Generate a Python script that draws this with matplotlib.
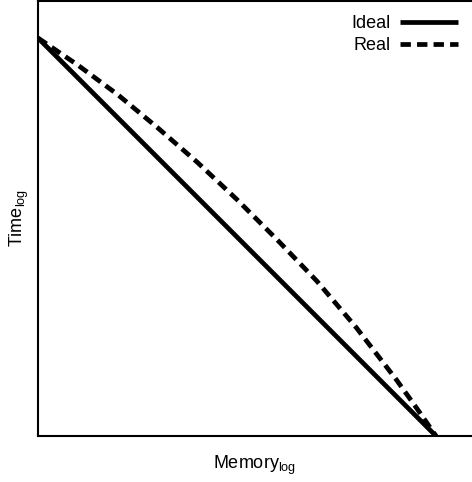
import matplotlib
matplotlib.use("Agg")
import matplotlib.pyplot as plt

plt.rcParams['font.family'] = ['Liberation Sans', 'DejaVu Sans']
plt.rcParams['mathtext.fontset'] = 'custom'
plt.rcParams['mathtext.rm'] = 'Liberation Sans'
plt.rcParams['mathtext.it'] = 'Liberation Sans'

# Data (normalized log-memory vs log-time)
ideal_x = [0.0, 1.0]
ideal_y = [1.0, 0.0]
real_x = [0.0, 0.1, 0.2, 0.3, 0.4, 0.5, 0.6, 0.7, 0.8, 0.9, 0.95, 1.0]
real_y = [1.0, 0.932, 0.858, 0.775, 0.688, 0.594, 0.494, 0.39, 0.272, 0.142, 0.072, 0.0]
labels = ["Ideal", "Real"]

fig = plt.figure(figsize=(4.72, 4.82), dpi=100)
ax = fig.add_axes([38/472, 46/482, 434/472, 435.5/482])
ax.plot(ideal_x, ideal_y, color='black', lw=3.4, label=labels[0], solid_capstyle='butt')
ax.plot(real_x, real_y, color='black', lw=3.4, ls=(0, (2.2, 1.3)), label=labels[1])
ax.set_xlim(0, 434/398)
ax.set_ylim(0, 435.5/398)
ax.set_xticks([])
ax.set_yticks([])
for s in ax.spines.values():
    s.set_linewidth(1.5)
ax.spines['right'].set_visible(False)
ax.set_xlabel(r'Memory$_\mathrm{log}$', fontsize=13, labelpad=13)
ax.set_ylabel(r'Time$_\mathrm{log}$', fontsize=13, labelpad=5)
ax.legend(loc='upper right', frameon=False, markerfirst=False, fontsize=13,
          handlelength=3.2, handletextpad=0.5, borderaxespad=0.4,
          labelspacing=0.3, borderpad=0.4)
fig.savefig('out.png', dpi=100)
